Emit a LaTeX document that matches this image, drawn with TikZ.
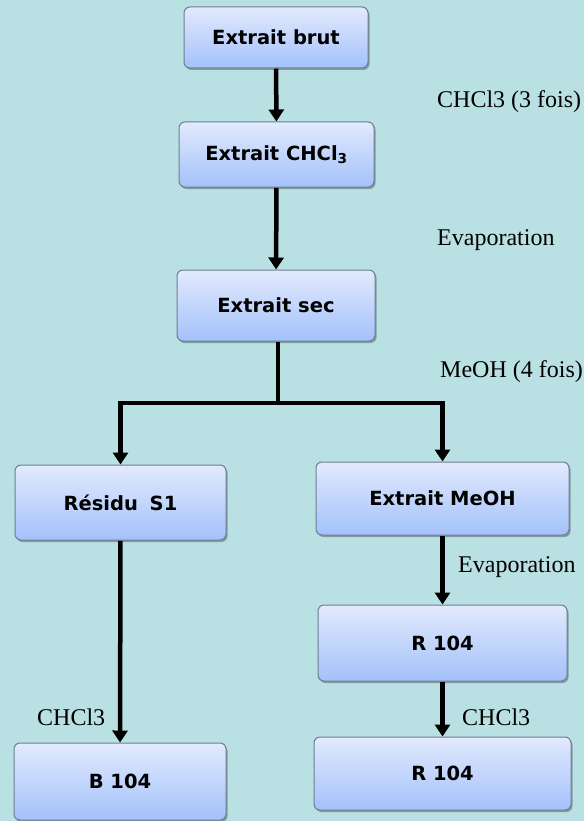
\documentclass[tikz,border=0pt]{standalone}
\usepackage{fontspec}
\usepackage{tikz}
\usetikzlibrary{arrows.meta,shadows}
\newfontfamily\boxfont{DejaVu Sans}
\newfontfamily\notefont{Liberation Serif}
\definecolor{bgcol}{RGB}{185,224,226}
\definecolor{boxtop}{RGB}{226,234,253}
\definecolor{boxbot}{RGB}{163,193,250}
\definecolor{boxline}{RGB}{112,124,150}
\pgfdeclarelayer{bg}
\pgfsetlayers{bg,main}
\tikzset{
    box/.style={rectangle, rounded corners=6pt, draw=boxline, line width=1pt, top color=boxtop, bottom color=boxbot, inner sep=0pt, font=\boxfont\bfseries\fontsize{19.5}{23}\selectfont, drop shadow={shadow xshift=1.5pt, shadow yshift=-2pt, opacity=.3, fill=black}}
}
\tikzset{note/.style={anchor=west, inner sep=0pt, font=\notefont\fontsize{24}{28}\selectfont}}
\tikzset{flow/.style={line width=4.5pt, -{Triangle[width=15pt,length=12pt]}}}

\begin{document}
\begin{tikzpicture}[x=1pt, y=-1pt]
        \begin{pgfonlayer}{bg}
                \fill[bgcol] (0,0) rectangle (584,821);
        \end{pgfonlayer}
        \useasboundingbox (0,0) rectangle (584,821);
        \node (brut) [box, minimum width=184pt, minimum height=61pt] at (276, 37.5) {Extrait brut};
        \node (chcl) [box, minimum width=195pt, minimum height=65pt] at (276.5, 154.5) {Extrait CHCl\textsubscript{3}};
        \node (sec) [box, minimum width=198pt, minimum height=71pt] at (276, 305.5) {Extrait sec};
        \node (res) [box, minimum width=211pt, minimum height=75pt] at (120.5, 502.5) {Résidu\hspace{0.6em}S1};
        \node (meoh) [box, minimum width=253pt, minimum height=73pt] at (442.5, 498.5) {Extrait MeOH};
        \node (ra) [box, minimum width=249pt, minimum height=76pt] at (442.5, 643) {R 104};
        \node (rb) [box, minimum width=257pt, minimum height=73pt] at (442.5, 773.5) {R 104};
        \node (b) [box, minimum width=212pt, minimum height=77pt] at (120, 781.5) {B 104};
        \coordinate (split) at (278, 403);
        \node (n0) [note] at (437, 102) {CHCl3 (3 fois)};
        \node (n1) [note] at (437, 240) {Evaporation};
        \node (n2) [note] at (440, 372) {MeOH (4 fois)};
        \node (n3) [note] at (458, 567) {Evaporation};
        \node (n4) [note] at (462, 717) {CHCl3};
        \node (n5) [note] at (37, 717) {CHCl3};
        \begin{pgfonlayer}{bg}
                \draw[flow] (brut) -- (chcl);
                \draw[flow] (chcl) -- (sec);
                \draw[line width=4.5pt] (sec.south -| split) -- (split);
                \draw[flow] (split) -| (res);
                \draw[flow] (split) -| (meoh);
                \draw[flow] (meoh) -- (ra);
                \draw[flow] (ra) -- (rb);
                \draw[flow] (res) -- (b);
        \end{pgfonlayer}
\end{tikzpicture}
\end{document}
